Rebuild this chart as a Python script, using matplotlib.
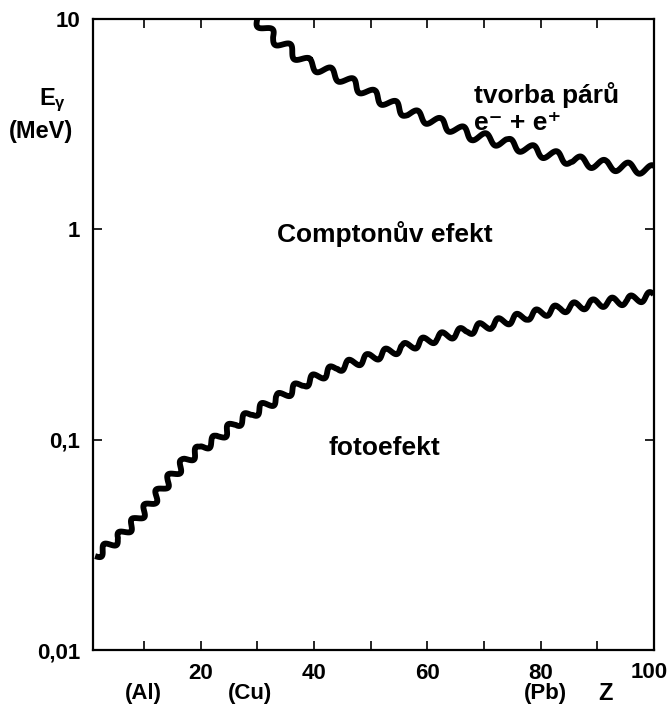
import matplotlib
matplotlib.use("Agg")
import matplotlib.pyplot as plt
from matplotlib.ticker import FixedLocator, FixedFormatter, NullLocator

# boundary: photoelectric effect / Compton effect
Z_PHOTO = [1.4, 5.5, 8.5, 11.5, 14.3, 17.3, 20.3, 23.1, 26.1, 29.1, 33.7, 38.1,
           44.1, 49.9, 55.8, 61.8, 67.1, 71.6, 77.6, 83.5, 89.3, 95.3, 100]
E_PHOTO = [0.028, 0.034, 0.041, 0.051, 0.064, 0.079, 0.092, 0.102, 0.119, 0.133,
           0.158, 0.185, 0.22, 0.246, 0.274, 0.306, 0.33, 0.356, 0.389, 0.42,
           0.444, 0.46, 0.485]

# boundary: Compton effect / pair production
Z_PAIR = [30.0, 32.8, 38.8, 44.7, 50.5, 56.5, 62.3, 68.1, 74.1, 79.9, 85.7, 91.7, 100]
E_PAIR = [10.0, 8.2, 6.2, 5.3, 4.35, 3.6, 3.2, 2.8, 2.57, 2.33, 2.13, 2.02, 1.91]

X_TICKS = [10, 20, 30, 40, 50, 60, 70, 80, 90, 100]
X_LABELS = ["", "20", "", "40", "", "60", "", "80", "", ""]
Y_TICKS = [0.01, 0.1, 1, 10]
Y_LABELS = ["0,01", "0,1", "1", "10"]

plt.rcParams["font.family"] = ["Liberation Sans", "DejaVu Sans"]
plt.rcParams["font.weight"] = "bold"
plt.rcParams["mathtext.fontset"] = "custom"
plt.rcParams["mathtext.rm"] = "Liberation Sans:bold"
plt.rcParams["mathtext.it"] = "Liberation Sans:bold"
plt.rcParams["mathtext.bf"] = "Liberation Sans:bold"

fig = plt.figure(figsize=(6.68, 7.09), dpi=100)
ax = fig.add_axes([0.139, 0.083, 0.840, 0.890])

lower, = ax.plot(Z_PHOTO, E_PHOTO, color="black", lw=4.2, solid_capstyle="butt")
lower.set_sketch_params(scale=4.3, length=19, randomness=1)
upper, = ax.plot(Z_PAIR, E_PAIR, color="black", lw=4.2, solid_capstyle="butt")
upper.set_sketch_params(scale=5, length=24, randomness=1)

ax.set_yscale("log")
ax.set_xlim(1, 100)
ax.set_ylim(0.01, 10)

ax.xaxis.set_major_locator(FixedLocator(X_TICKS))
ax.xaxis.set_major_formatter(FixedFormatter(X_LABELS))
ax.yaxis.set_major_locator(FixedLocator(Y_TICKS))
ax.yaxis.set_major_formatter(FixedFormatter(Y_LABELS))
ax.xaxis.set_minor_locator(NullLocator())
ax.yaxis.set_minor_locator(NullLocator())
ax.tick_params(direction="in", top=True, right=True, length=6.5, width=1.2,
               labelsize=16, pad=9)
for spine in ax.spines.values():
    spine.set_linewidth(1.6)

ax.text(0.68, 0.880, "tvorba párů", transform=ax.transAxes, fontsize=19, ha="left", va="center")
ax.text(0.68, 0.836, "e⁻ + e⁺", transform=ax.transAxes, fontsize=19, ha="left", va="center")
ax.text(0.52, 0.66, "Comptonův efekt", transform=ax.transAxes, fontsize=19, ha="center", va="center")
ax.text(0.52, 0.32, "fotoefekt", transform=ax.transAxes, fontsize=19, ha="center", va="center")

fig.text(0.078, 0.859, "E$_{\\gamma}$", fontsize=17, ha="center", va="center")
fig.text(0.062, 0.815, "(MeV)", fontsize=17, ha="center", va="center")
fig.text(0.999, 0.052, "100", fontsize=16, ha="right", va="center")
fig.text(0.906, 0.022, "Z", fontsize=17, ha="center", va="center")
fig.text(0.214, 0.022, "(Al)", fontsize=16, ha="center", va="center")
fig.text(0.374, 0.022, "(Cu)", fontsize=16, ha="center", va="center")
fig.text(0.816, 0.022, "(Pb)", fontsize=16, ha="center", va="center")

fig.savefig("out.png", dpi=100)
